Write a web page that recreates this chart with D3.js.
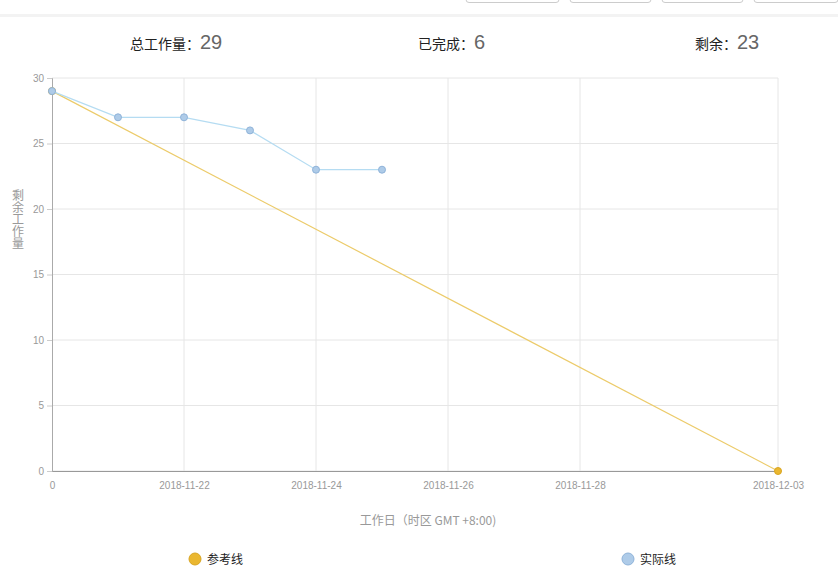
<!DOCTYPE html>
<html>
<head>
<meta charset="utf-8">
<script src="https://cdn.jsdelivr.net/npm/d3@7"></script>
<style>
    body { margin: 0; background: #fff; font-family: "Microsoft YaHei", "Noto Sans CJK SC", sans-serif; }
</style>
</head>
<body>
<div id="chart"></div>
<script>
// Burndown data
const categories = ["0", "2018-11-21", "2018-11-22", "2018-11-23", "2018-11-24", "2018-11-25",
    "2018-11-26", "2018-11-27", "2018-11-28", "2018-11-29", "2018-11-30", "2018-12-03"];
const shownLabels = ["0", "2018-11-22", "2018-11-24", "2018-11-26", "2018-11-28", "2018-12-03"];
const actualValues = [29, 27, 27, 26, 23, 23];
const referenceValues = [[0, 29], [11, 0]];
const yTicks = [0, 5, 10, 15, 20, 25, 30];
const summary = [
    { label: "总工作量：", value: 29, x: 130 },
    { label: "已完成：", value: 6, x: 418 },
    { label: "剩余：", value: 23, x: 695 }
];

const width = 838;
const height = 588;
const margin = { top: 78, right: 60, bottom: 117, left: 52 };

const svg = d3.select("#chart")
    .append("svg")
    .attr("width", width)
    .attr("height", height);

// top toolbar remnants
const buttons = [[466, 559], [570, 651], [662, 743], [754, 838]];
buttons.forEach(b => {
    svg.append("rect")
        .attr("x", b[0]).attr("y", -10)
        .attr("width", b[1] - b[0]).attr("height", 12.5)
        .attr("rx", 3)
        .attr("fill", "#fff")
        .attr("stroke", "#ccc");
});
svg.append("rect")
    .attr("x", 0).attr("y", 14)
    .attr("width", width).attr("height", 3)
    .attr("fill", "#f3f3f3");

// summary row
summary.forEach(s => {
    const t = svg.append("text")
        .attr("x", s.x).attr("y", 49);
    t.append("tspan")
        .attr("font-size", 14)
        .attr("fill", "#222")
        .text(s.label);
    t.append("tspan")
        .attr("font-size", 20)
        .attr("fill", "#666")
        .attr("font-family", "Arial, 'Liberation Sans', sans-serif")
        .text(s.value);
});

const x = d3.scalePoint()
    .domain(d3.range(categories.length))
    .range([margin.left, width - margin.right]);

const y = d3.scaleLinear()
    .domain([0, 30])
    .range([height - margin.bottom, margin.top]);

// horizontal grid
svg.append("g")
    .selectAll("line")
    .data(yTicks)
    .join("line")
    .attr("x1", margin.left).attr("x2", width - margin.right)
    .attr("y1", d => y(d)).attr("y2", d => y(d))
    .attr("stroke", "#e6e6e6");

// vertical grid at labelled days
const labelIdx = categories.map((c, i) => i).filter(i => shownLabels.includes(categories[i]));
svg.append("g")
    .selectAll("line")
    .data(labelIdx.filter(i => i > 0))
    .join("line")
    .attr("x1", d => x(d)).attr("x2", d => x(d))
    .attr("y1", margin.top).attr("y2", height - margin.bottom)
    .attr("stroke", "#e6e6e6");

// y axis
const yAxis = svg.append("g")
    .attr("transform", `translate(${margin.left},0)`)
    .call(d3.axisLeft(y).tickValues(yTicks).tickSize(5).tickPadding(3));
yAxis.select(".domain").attr("stroke", "#aaa");
yAxis.selectAll(".tick line").attr("stroke", "#ccc");
yAxis.selectAll("text").attr("fill", "#999").attr("font-size", 10)
    .attr("font-family", "Arial, 'Liberation Sans', sans-serif");

// x axis
const xAxis = svg.append("g")
    .attr("transform", `translate(0,${height - margin.bottom})`)
    .call(d3.axisBottom(x).tickValues(labelIdx).tickFormat(i => categories[i]).tickSize(0).tickPadding(11));
xAxis.select(".domain").attr("stroke", "#999");
xAxis.selectAll("text").attr("fill", "#999").attr("font-size", 10)
    .attr("font-family", "Arial, 'Liberation Sans', sans-serif");

// axis titles
svg.append("text")
    .attr("x", 428).attr("y", 525)
    .attr("text-anchor", "middle")
    .attr("font-size", 12)
    .attr("fill", "#999")
    .text("工作日（时区 GMT +8:00)");

// vertical y title, one text
svg.append("text")
    .attr("x", 18).attr("y", 189)
    .attr("font-size", 12)
    .attr("fill", "#999")
    .style("writing-mode", "vertical-rl")
    .text("剩余工作量");

// reference line
const line = d3.line().x(d => x(d[0])).y(d => y(d[1]));
svg.append("path")
    .datum(referenceValues)
    .attr("d", line)
    .attr("fill", "none")
    .attr("stroke", "#eccb6a")
    .attr("stroke-width", 1.2);
svg.append("g")
    .selectAll("circle")
    .data(referenceValues)
    .join("circle")
    .attr("cx", d => x(d[0])).attr("cy", d => y(d[1]))
    .attr("r", 3.5)
    .attr("fill", "#eab730")
    .attr("stroke", "#d9a521");

// actual line
const actual = actualValues.map((v, i) => [i, v]);
svg.append("path")
    .datum(actual)
    .attr("d", line)
    .attr("fill", "none")
    .attr("stroke", "#b5dcf2")
    .attr("stroke-width", 1.2);
svg.append("g")
    .selectAll("circle")
    .data(actual)
    .join("circle")
    .attr("cx", d => x(d[0])).attr("cy", d => y(d[1]))
    .attr("r", 3.5)
    .attr("fill", "#aecbe8")
    .attr("stroke", "#8fb3d9");

// legend
const legend = [
    { name: "参考线", fill: "#eab730", stroke: "#d9a521", x: 195 },
    { name: "实际线", fill: "#aecbe8", stroke: "#8fb3d9", x: 628 }
];
legend.forEach(l => {
    svg.append("circle")
        .attr("cx", l.x).attr("cy", 559)
        .attr("r", 6)
        .attr("fill", l.fill)
        .attr("stroke", l.stroke);
    svg.append("text")
        .attr("x", l.x + 12).attr("y", 563.5)
        .attr("font-size", 12)
        .attr("fill", "#222")
        .text(l.name);
});
</script>
</body>
</html>
